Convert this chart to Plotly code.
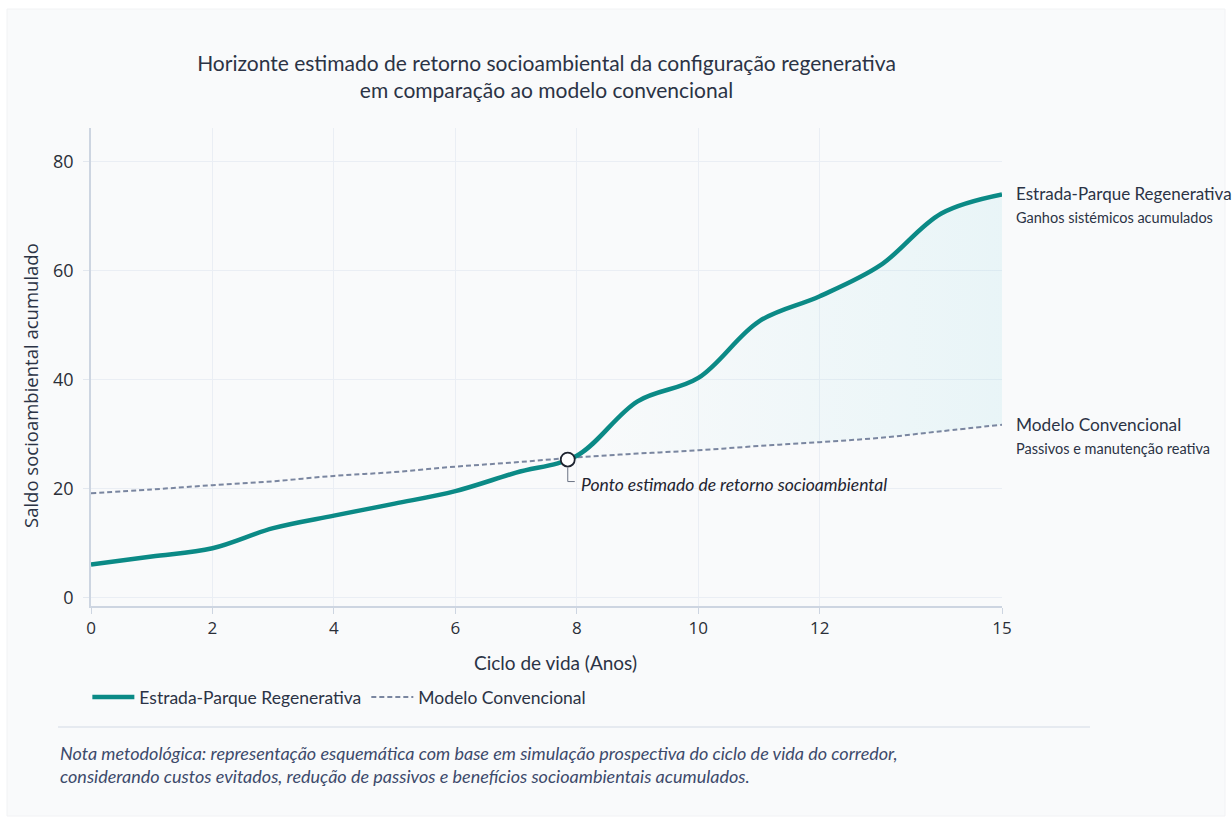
import plotly.graph_objects as go

# ---- data ----
years = list(range(16))
regenerativa = [6.0, 7.5, 9.0, 12.7, 15.0, 17.2, 19.5, 22.9, 26.0, 36.0, 40.3, 50.7, 55.3, 61.0, 70.5, 74.0]
convencional = [19.1, 19.8, 20.6, 21.3, 22.3, 23.0, 24.0, 24.8, 25.7, 26.4, 27.0, 27.8, 28.5, 29.3, 30.5, 31.7]
cross_x, cross_y = 7.85, 25.3
x_ticks = [0, 2, 4, 6, 8, 10, 12, 15]
y_ticks = [0, 20, 40, 60, 80]

TEAL = "#0b8a86"
GREY = "#7a86a0"
TXT = "#2b3345"
FONT = "Lato"
TICKFONT = "Open Sans"

PL, PR, PT, PB = 91, 1002, 128, 606   # plot area in pixels
PW, PH = PR - PL, PB - PT


def px(x):
    return (x - PL) / PW


def py(y):
    return (PB - y) / PH


fig = go.Figure()

# fill region (after crossing point)
fx = [cross_x] + [x for x in years if x > cross_x]
f_conv = [cross_y] + [v for x, v in zip(years, convencional) if x > cross_x]
f_reg = [cross_y] + [v for x, v in zip(years, regenerativa) if x > cross_x]
fig.add_trace(go.Scatter(x=fx, y=f_conv, mode="lines", line=dict(width=0, shape="spline"),
                         showlegend=False, hoverinfo="skip"))
fig.add_trace(go.Scatter(x=fx, y=f_reg, mode="lines", line=dict(width=0, shape="spline"),
                         fill="tonexty",
                         fillgradient=dict(type="horizontal",
                                           colorscale=[[0, "rgba(140,215,225,0.0)"],
                                                       [1, "rgba(140,215,225,0.15)"]]),
                         showlegend=False, hoverinfo="skip"))

fig.add_trace(go.Scatter(x=years, y=convencional, mode="lines", name="Modelo Convencional",
                         line=dict(color=GREY, width=2, dash="5px,3px", shape="spline")))
fig.add_trace(go.Scatter(x=years, y=regenerativa, mode="lines", name="Estrada-Parque Regenerativa",
                         line=dict(color=TEAL, width=4.5, shape="spline", smoothing=1)))
fig.add_trace(go.Scatter(x=[cross_x], y=[cross_y], mode="markers", showlegend=False,
                         marker=dict(size=14, color="white", line=dict(color="#1f2430", width=1.8)),
                         hoverinfo="skip"))

# card background
fig.add_shape(type="rect", xref="paper", yref="paper", layer="below",
              x0=px(7), x1=px(1225), y0=py(816), y1=py(9),
              fillcolor="#f9fafb", line=dict(color="#f1f2f4", width=1))
# separator line
fig.add_shape(type="line", xref="paper", yref="paper",
              x0=px(58), x1=px(1090), y0=py(727), y1=py(727),
              line=dict(color="#dfe4ec", width=1.5))
# elbow connector for crossing annotation
fig.add_shape(type="path", xref="x", yref="y", xsizemode="pixel", ysizemode="pixel",
              xanchor=cross_x, yanchor=cross_y,
              path="M 0 -8 L 0 -22 L 7 -22", line=dict(color="#6b7384", width=1))

fig.add_annotation(x=cross_x, y=cross_y, xref="x", yref="y", xshift=11, yshift=-25,
                   xanchor="left", yanchor="middle", showarrow=False,
                   text="<i>Ponto estimado de retorno socioambiental</i>",
                   font=dict(family=FONT, size=17.5, color="#1f2430"))

fig.add_annotation(x=years[-1], y=regenerativa[-1], xref="x", yref="y", xshift=12, yshift=1,
                   xanchor="left", yanchor="middle", showarrow=False,
                   text="Estrada-Parque Regenerativa", font=dict(family=FONT, size=17, color=TXT))
fig.add_annotation(x=years[-1], y=regenerativa[-1], xref="x", yref="y", xshift=12, yshift=-23,
                   xanchor="left", yanchor="middle", showarrow=False,
                   text="Ganhos sistémicos acumulados", font=dict(family=FONT, size=14.5, color=TXT))
fig.add_annotation(x=years[-1], y=convencional[-1], xref="x", yref="y", xshift=12, yshift=0,
                   xanchor="left", yanchor="middle", showarrow=False,
                   text="Modelo Convencional", font=dict(family=FONT, size=17.3, color=TXT))
fig.add_annotation(x=years[-1], y=convencional[-1], xref="x", yref="y", xshift=12, yshift=-24,
                   xanchor="left", yanchor="middle", showarrow=False,
                   text="Passivos e manutenção reativa", font=dict(family=FONT, size=14.5, color=TXT))

# axis titles
fig.add_annotation(xref="paper", yref="paper", x=px(555), y=py(662),
                   xanchor="center", yanchor="middle", showarrow=False,
                   text="Ciclo de vida (Anos)", font=dict(family=FONT, size=19, color=TXT))
fig.add_annotation(xref="paper", yref="paper", x=px(30), y=py(386),
                   xanchor="center", yanchor="middle", showarrow=False, textangle=-90,
                   text="Saldo socioambiental acumulado", font=dict(family=TICKFONT, size=18.5, color=TXT))

fig.add_annotation(xref="paper", yref="paper", x=px(58), y=py(764),
                   xanchor="left", yanchor="middle", showarrow=False, align="left",
                   text="<i>Nota metodológica: representação esquemática com base em simulação prospectiva do ciclo de vida do corredor,<br>"
                        "considerando custos evitados, redução de passivos e benefícios socioambientais acumulados.</i>",
                   font=dict(family=FONT, size=18, color="#3d4a6b"))

fig.update_layout(
    width=1232, height=825,
    margin=dict(l=PL, r=1232 - PR, t=PT, b=825 - PB, autoexpand=False),
    paper_bgcolor="white", plot_bgcolor="rgba(0,0,0,0)",
    title=dict(text="Horizonte estimado de retorno socioambiental da configuração regenerativa<br>em comparação ao modelo convencional",
               x=0.5, xref="paper", xanchor="center", y=1 - 71/825, yanchor="middle",
               font=dict(family=FONT, size=21, color=TXT)),
    font=dict(family=FONT, color=TXT),
    legend=dict(orientation="h", x=-0.004, xanchor="left", y=py(697), yanchor="middle",
                font=dict(family=FONT, size=17.5, color=TXT), traceorder="reversed",
                bgcolor="rgba(0,0,0,0)", itemwidth=42),
    showlegend=True,
)
fig.update_xaxes(range=[0, 15], tickvals=x_ticks, ticktext=[str(t) for t in x_ticks],
                 showgrid=True, gridcolor="#eaeef4", gridwidth=1,
                 showline=True, linecolor="#cdd5e1", linewidth=1.5,
                 ticks="outside", ticklen=6, tickcolor="#cdd5e1",
                 tickfont=dict(family=TICKFONT, size=17, color="#2b2f38"),
                 zeroline=False, automargin=False)
fig.update_yaxes(range=[-1.6, 86.2], tickvals=y_ticks,
                 showgrid=True, gridcolor="#eaeef4", gridwidth=1,
                 showline=True, linecolor="#cdd5e1", linewidth=1.5,
                 ticks="outside", ticklen=6, tickcolor="#e3e8ef",
                 ticklabelstandoff=6,
                 tickfont=dict(family=TICKFONT, size=18, color="#2b2f38"),
                 zeroline=False, automargin=False)

fig.write_html("out.html", config={"displayModeBar": False},
               post_script="document.body.style.margin='0';document.body.style.overflow='hidden';")
